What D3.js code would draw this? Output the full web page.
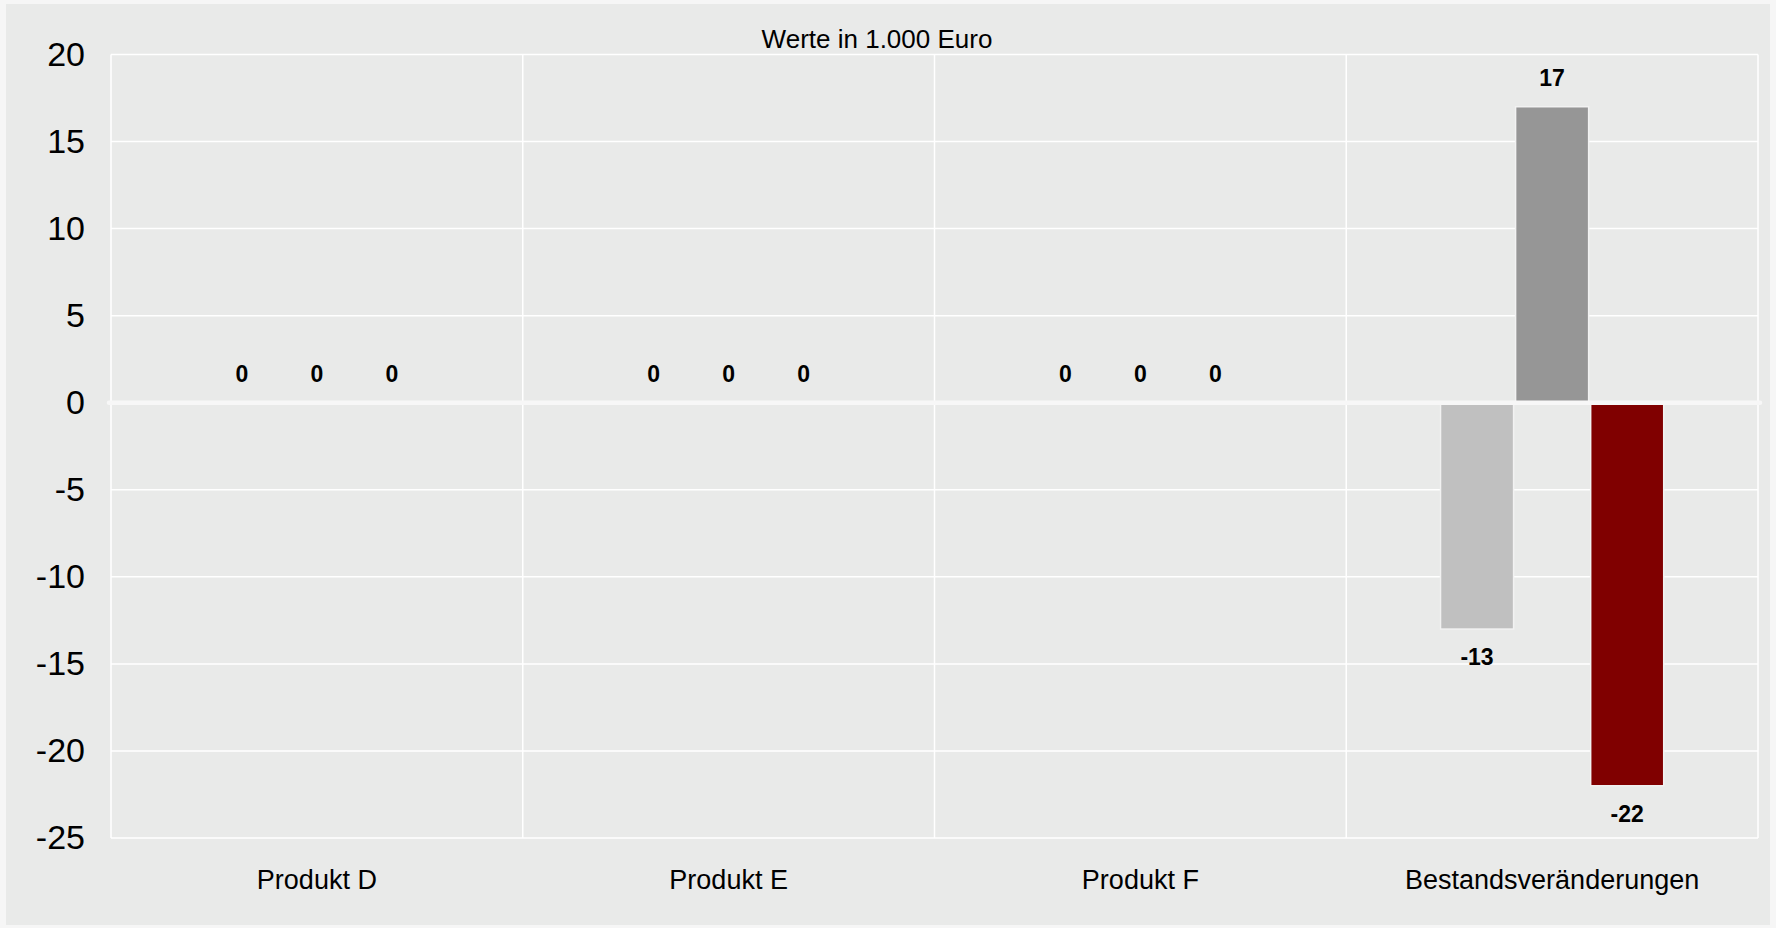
<!DOCTYPE html>
<html>
<head>
<meta charset="utf-8">
<script src="https://cdn.jsdelivr.net/npm/d3@7"></script>
<style>
  body { margin: 0; background: #f6f6f6; }
  svg { display: block; font-family: "Liberation Sans", Arial, sans-serif; }
</style>
</head>
<body>
<svg></svg>
<script>
(function (d3) {
  'use strict';

  // data
  var categories = ["Produkt D", "Produkt E", "Produkt F", "Bestandsveränderungen"];
  var seriesNames = ["Reihe 1", "Reihe 2", "Reihe 3"];
  var seriesColors = ["#c0c0c0", "#969696", "#800000"];
  var reihe1 = [0, 0, 0, -13];
  var reihe2 = [0, 0, 0, 17];
  var reihe3 = [0, 0, 0, -22];
  var yTicks = [20, 15, 10, 5, 0, -5, -10, -15, -20, -25];
  var title = "Werte in 1.000 Euro";

  var width = 1776, height = 928;
  var plot = { left: 111, right: 1758, top: 54.5, bottom: 838 };

  var svg = d3.select("svg").attr("width", width).attr("height", height);

  svg.append("rect")
    .attr("x", 6).attr("y", 4)
    .attr("width", 1764).attr("height", 921)
    .attr("fill", "#e9eae9");

  var x = d3.scaleBand()
    .domain(categories)
    .range([plot.left, plot.right]);

  var y = d3.scaleLinear()
    .domain([-25, 20])
    .range([plot.bottom, plot.top]);

  var groupW = x.bandwidth() * 0.542;
  var x1 = d3.scaleBand()
    .domain(seriesNames)
    .range([(x.bandwidth() - groupW) / 2, (x.bandwidth() + groupW) / 2])
    .paddingInner(0.027);

  // grid
  var grid = svg.append("g");
  grid.selectAll(".h")
    .data(yTicks)
    .enter().append("line")
      .attr("x1", plot.left).attr("x2", plot.right)
      .attr("y1", function (d) { return y(d); })
      .attr("y2", function (d) { return y(d); })
      .attr("stroke", "#ffffff")
      .attr("stroke-width", 1.5);

  var vlines = d3.range(categories.length + 1).map(function (i) {
    return plot.left + i * x.step();
  });
  grid.selectAll(".v")
    .data(vlines)
    .enter().append("line")
      .attr("x1", function (d) { return d; })
      .attr("x2", function (d) { return d; })
      .attr("y1", plot.top).attr("y2", plot.bottom)
      .attr("stroke", "#ffffff")
      .attr("stroke-width", 1.5);

  // y axis
  var yAxis = svg.append("g")
    .attr("transform", "translate(" + (plot.left) + ",0)")
    .call(d3.axisLeft(y).tickValues(yTicks).tickSize(0).tickPadding(26)
      .tickFormat(function (d) { return String(d); }));
  yAxis.select(".domain").remove();
  yAxis.selectAll("text")
    .attr("font-size", 34)
    .attr("font-family", "Liberation Sans, Arial, sans-serif")
    .attr("fill", "#000");

  // x axis labels
  var xAxis = svg.append("g")
    .attr("transform", "translate(0," + plot.bottom + ")")
    .call(d3.axisBottom(x).tickSize(0).tickPadding(32));
  xAxis.select(".domain").remove();
  xAxis.selectAll("text")
    .attr("font-size", 27)
    .attr("font-family", "Liberation Sans, Arial, sans-serif")
    .attr("fill", "#000");

  // bars
  var rows = [];
  categories.forEach(function (c, i) {
    [reihe1, reihe2, reihe3].forEach(function (s, j) {
      rows.push({ cat: c, name: seriesNames[j], color: seriesColors[j], value: s[i] });
    });
  });

  var bars = svg.append("g");
  bars.selectAll("rect")
    .data(rows.filter(function (d) { return d.value !== 0; }))
    .enter().append("rect")
      .attr("x", function (d) { return x(d.cat) + x1(d.name); })
      .attr("y", function (d) { return y(Math.max(0, d.value)); })
      .attr("width", x1.bandwidth())
      .attr("height", function (d) { return Math.abs(y(d.value) - y(0)); })
      .attr("fill", function (d) { return d.color; })
      .attr("stroke", "#f2f2f2")
      .attr("stroke-width", 1.5);

  // zero line
  svg.append("line")
    .attr("x1", plot.left - 2).attr("x2", plot.right + 2)
    .attr("y1", y(0)).attr("y2", y(0))
    .attr("stroke", "#f7f7f7")
    .attr("stroke-width", 4.5)
    .attr("stroke-linecap", "round");

  // value labels
  svg.append("g").selectAll("text")
    .data(rows)
    .enter().append("text")
      .attr("x", function (d) { return x(d.cat) + x1(d.name) + x1.bandwidth() / 2; })
      .attr("y", function (d) { return d.value < 0 ? y(d.value) + 28 : y(d.value) - 29; })
      .attr("dy", "0.35em")
      .attr("text-anchor", "middle")
      .attr("font-size", 23)
      .attr("font-weight", "bold")
      .attr("fill", "#000")
      .text(function (d) { return d.value; });

  // title
  svg.append("text")
    .attr("x", 877).attr("y", 39)
    .attr("dy", "0.35em")
    .attr("text-anchor", "middle")
    .attr("font-size", 26)
    .attr("fill", "#000")
    .text(title);

}(d3));
</script>
</body>
</html>
